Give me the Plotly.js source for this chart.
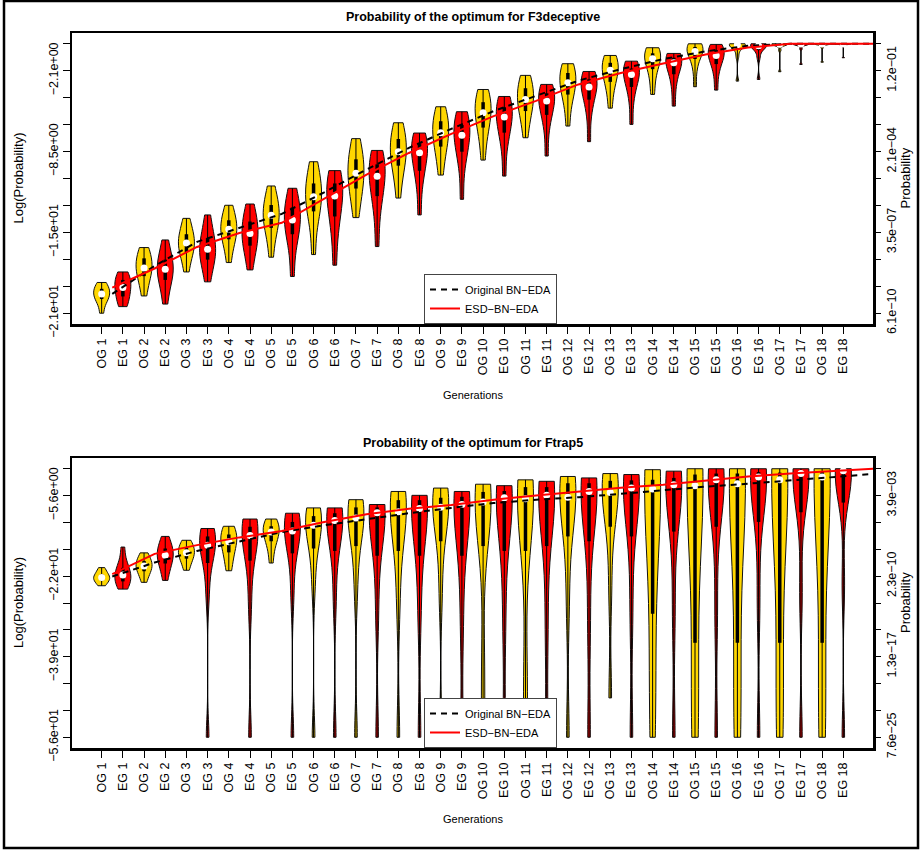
<!DOCTYPE html>
<html><head><meta charset="utf-8">
<script src="https://cdn.plot.ly/plotly-3.0.1.min.js"></script>
<style>body{margin:0;background:#fff}#chart{width:922px;height:852px}</style>
</head><body><div id="chart"></div>
<script>
// ---------- data ----------
const tickLabels = ["OG 1","EG 1","OG 2","EG 2","OG 3","EG 3","OG 4","EG 4","OG 5","EG 5","OG 6","EG 6",
  "OG 7","EG 7","OG 8","EG 8","OG 9","EG 9","OG 10","EG 10","OG 11","EG 11","OG 12","EG 12",
  "OG 13","EG 13","OG 14","EG 14","OG 15","EG 15","OG 16","EG 16","OG 17","EG 17","OG 18","EG 18"];

// each violin: octiles [min, p12.5, q1, p37.5, median, p62.5, q3, p87.5, max] of log(probability)
const topOG = [
 [-21.22,-20.4,-20.1,-19.9,-19.7,-19.5,-19.3,-19.1,-18.8],
 [-19.86,-18.9,-18.3,-17.9,-17.65,-17.3,-16.9,-16.5,-16.05],
 [-17.97,-16.9,-16.4,-16.0,-15.69,-15.4,-15.0,-14.5,-13.75],
 [-17.23,-16.0,-15.4,-15.0,-14.61,-14.3,-13.9,-13.4,-12.72],
 [-16.81,-15.2,-14.5,-14.0,-13.51,-13.1,-12.7,-12.1,-11.2],
 [-16.6,-14.2,-13.2,-12.6,-12.04,-11.5,-11.0,-10.3,-9.29],
 [-13.69,-12.2,-11.4,-10.8,-10.2,-9.6,-9.1,-8.4,-7.47],
 [-12.15,-10.4,-9.6,-9.0,-8.5,-8.0,-7.5,-6.9,-6.22],
 [-10.34,-8.9,-8.1,-7.5,-7.0,-6.6,-6.1,-5.6,-4.96],
 [-9.16,-7.4,-6.6,-5.9,-5.43,-5.0,-4.6,-4.1,-3.6],
 [-7.4,-6.0,-5.3,-4.8,-4.38,-3.9,-3.5,-3.0,-2.49],
 [-6.48,-4.8,-4.0,-3.5,-3.07,-2.7,-2.3,-1.9,-1.57],
 [-5.07,-3.7,-3.0,-2.5,-2.08,-1.8,-1.5,-1.2,-0.92],
 [-3.99,-2.8,-2.0,-1.5,-1.18,-0.95,-0.75,-0.5,-0.31],
 [-3.38,-2.0,-1.2,-0.8,-0.6,-0.4,-0.25,-0.1,0],
 [-2.94,-1.0,-0.4,-0.2,-0.08,-0.04,-0.02,0,0],
 [-2.2,-0.5,-0.15,-0.06,-0.03,-0.01,0,0,0],
 [-1.45,-0.3,-0.08,-0.03,-0.01,0,0,0,0]
];
const topEG = [
 [-20.7,-20.3,-19.9,-19.5,-19.2,-18.9,-18.6,-18.3,-17.97],
 [-20.5,-19.2,-18.6,-18.1,-17.76,-17.4,-17.0,-16.4,-15.45],
 [-18.75,-17.6,-17.0,-16.6,-16.18,-15.8,-15.3,-14.6,-13.48],
 [-17.81,-16.5,-15.9,-15.4,-14.95,-14.5,-14.0,-13.4,-12.62],
 [-18.33,-16.0,-15.0,-14.4,-13.88,-13.4,-12.9,-12.3,-11.38],
 [-17.44,-14.8,-13.6,-12.7,-11.99,-11.5,-11.0,-10.5,-9.99],
 [-15.97,-13.2,-12.0,-11.1,-10.44,-10.0,-9.5,-9.0,-8.4],
 [-13.48,-11.0,-10.0,-9.2,-8.58,-8.2,-7.9,-7.5,-7.03],
 [-12.25,-9.6,-8.5,-7.8,-7.21,-6.8,-6.4,-5.9,-5.35],
 [-10.42,-8.0,-7.0,-6.3,-5.77,-5.4,-5.0,-4.6,-4.15],
 [-8.84,-6.6,-5.6,-5.0,-4.51,-4.2,-3.9,-3.6,-3.2],
 [-7.71,-5.5,-4.4,-3.8,-3.41,-3.1,-2.8,-2.5,-2.18],
 [-6.35,-4.4,-3.4,-2.8,-2.42,-2.2,-1.95,-1.7,-1.37],
 [-4.91,-3.3,-2.4,-1.8,-1.5,-1.3,-1.1,-0.95,-0.76],
 [-3.65,-2.3,-1.6,-1.15,-0.92,-0.7,-0.5,-0.3,-0.05],
 [-2.81,-1.1,-0.5,-0.25,-0.15,-0.08,-0.04,-0.01,0],
 [-1.63,-0.4,-0.12,-0.05,-0.02,-0.01,0,0,0],
 [-1.1,-0.2,-0.05,-0.02,-0.01,0,0,0,0]
];
const botOG = [
 [-24.2,-23.5,-23.1,-22.8,-22.5,-22.2,-21.8,-21.2,-20.45],
 [-23.5,-22.0,-21.2,-20.6,-20.1,-19.6,-19.1,-18.4,-17.4],
 [-21.0,-19.5,-18.6,-17.9,-17.4,-16.9,-16.3,-15.6,-14.8],
 [-21.1,-19.0,-17.3,-16.0,-15.1,-14.3,-13.6,-12.8,-11.9],
 [-19.5,-16.5,-15.0,-13.9,-13.1,-12.5,-11.9,-11.2,-10.4],
 [-55.54,-24.0,-16.5,-13.5,-11.7,-10.6,-9.8,-8.9,-8.1],
 [-55.54,-25.0,-16.0,-12.3,-10.2,-9.0,-8.0,-7.2,-6.4],
 [-55.54,-28.0,-17.0,-11.5,-8.9,-7.5,-6.5,-5.5,-4.7],
 [-55.54,-26.0,-15.0,-10.0,-7.96,-6.8,-6.0,-5.0,-4.0],
 [-55.54,-40.0,-16.0,-9.0,-6.9,-5.5,-4.8,-4.0,-3.2],
 [-55.54,-42.0,-17.0,-9.0,-6.2,-4.6,-3.8,-3.0,-2.3],
 [-55.54,-28.0,-14.0,-8.5,-5.9,-4.0,-3.0,-2.2,-1.6],
 [-47.4,-25.0,-12.0,-7.5,-4.9,-3.3,-2.5,-1.7,-1.0],
 [-55.54,-46.0,-30.0,-9.0,-4.2,-2.8,-2.3,-1.2,-0.2],
 [-55.54,-50.0,-36.0,-8.0,-3.5,-2.0,-1.2,-0.5,0],
 [-55.54,-50.0,-36.0,-9.0,-3.1,-1.8,-1.0,-0.4,0],
 [-55.54,-50.0,-36.0,-8.0,-2.3,-1.3,-0.8,-0.3,0],
 [-55.54,-50.0,-36.0,-7.0,-1.7,-1.0,-0.6,-0.2,0]
];
const botEG = [
 [-24.9,-23.9,-23.3,-22.6,-21.97,-21.3,-20.5,-19.2,-16.2],
 [-23.1,-20.8,-19.6,-18.7,-17.9,-17.2,-16.5,-15.6,-14.0],
 [-55.54,-26.0,-19.5,-17.0,-15.8,-14.8,-14.0,-13.2,-12.36],
 [-55.54,-28.0,-19.0,-15.5,-13.8,-12.8,-12.0,-11.2,-10.4],
 [-55.54,-26.0,-17.5,-14.5,-12.9,-11.9,-11.0,-10.1,-9.2],
 [-55.54,-27.0,-17.0,-13.0,-10.7,-9.9,-9.2,-8.6,-8.1],
 [-55.54,-30.0,-18.0,-11.5,-9.1,-8.5,-8.0,-7.7,-7.4],
 [-55.54,-30.0,-18.0,-11.0,-8.2,-7.2,-6.5,-6.0,-5.5],
 [-55.54,-32.0,-18.0,-10.5,-7.4,-6.5,-5.8,-5.2,-4.7],
 [-55.54,-32.0,-17.0,-9.0,-6.0,-5.2,-4.6,-4.0,-3.5],
 [-55.54,-33.0,-16.0,-8.5,-5.5,-4.5,-3.8,-3.2,-2.6],
 [-55.54,-32.0,-15.0,-7.5,-4.7,-3.7,-3.0,-2.4,-1.9],
 [-55.54,-30.0,-14.0,-6.5,-4.0,-3.0,-2.4,-1.8,-1.2],
 [-55.54,-30.0,-13.0,-5.5,-3.3,-2.5,-1.9,-1.2,-0.5],
 [-55.54,-30.0,-12.0,-4.5,-2.3,-1.5,-1.0,-0.5,0],
 [-55.54,-28.0,-11.0,-4.0,-1.7,-1.1,-0.7,-0.3,0],
 [-55.54,-26.0,-9.0,-2.8,-1.0,-0.6,-0.4,-0.2,0],
 [-55.54,-24.0,-7.0,-1.5,-0.4,-0.25,-0.15,-0.05,0]
];

// trend curves, one value per generation
const lineGen = [1,2,3,4,5,6,7,8,9,10,11,12,13,14,15,16,17,18,19];
const topOrig = [-19.7,-17.5,-15.6,-14.5,-13.4,-11.7,-9.9,-8.2,-6.7,-5.3,-4.1,-2.9,-2.0,-1.2,-0.6,-0.15,0,0,0];
const topESD  = [-19.2,-17.7,-16.0,-14.9,-14.1,-12.2,-10.3,-8.6,-7.1,-5.7,-4.5,-3.2,-2.3,-1.55,-0.85,-0.3,0,0,0];
const botOrig = [-22.3,-19.4,-17.0,-15.0,-13.1,-11.7,-10.4,-9.2,-8.1,-7.1,-6.4,-5.9,-5.2,-4.4,-3.7,-3.1,-2.4,-1.75,-1.05];
const botESD  = [-21.8,-17.6,-15.8,-14.2,-12.9,-11.0,-9.4,-8.3,-7.5,-6.4,-5.55,-4.7,-3.95,-3.3,-2.45,-1.6,-1.0,-0.45,0];

// axis ticks
const topTickVals = [0,-2.122,-4.244,-6.366,-8.488,-10.61,-12.732,-14.854,-16.976,-19.098,-21.22];
const topTickLeft = ["","−2.1e+00","","","−8.5e+00","","","−1.5e+01","","","−2.1e+01"];
const topTickRight = ["","1.2e−01","","","2.1e−04","","","3.5e−07","","","6.1e−10"];
const botTickVals = [0,-5.554,-11.108,-16.662,-22.216,-27.77,-33.324,-38.878,-44.432,-49.986,-55.54];
const botTickLeft = ["","−5.6e+00","","","−2.2e+01","","","−3.9e+01","","","−5.6e+01"];
const botTickRight = ["","3.9e−03","","","2.3e−10","","","1.3e−17","","","7.6e−25"];

// ---------- build ----------
const GOLD = "#FFD700", RED = "#FF0000";
const FONT = "Liberation Sans, Arial, Helvetica, sans-serif";
const positions = tickLabels.map((_, i) => i + 1);
const pos = (g, isEG) => 2 * g + 1 + (isEG ? 1 : 0);

// one trace per violin, each in its own scale group so every violin gets the same max width
function violins(data, isEG, color, xa, ya, tag) {
  return data.map((arr, g) => ({
    type: "violin", x: arr.map(() => pos(g, isEG)), y: arr, xaxis: xa, yaxis: ya,
    scalegroup: tag + g, spanmode: "hard", scalemode: "width", width: 0.755, side: "both",
    fillcolor: color, opacity: 1, line: {color: "#111", width: 1},
    points: false, box: {visible: false}, meanline: {visible: false}, showlegend: false, hoverinfo: "skip"
  }));
}
function boxParts(data, isEG, xa, ya) {
  const wx = [], wy = [], bx = [], by = [], mx = [], my = [];
  data.forEach((arr, g) => {
    const p = pos(g, isEG);
    wx.push(p, p, null); wy.push(arr[0], arr[8], null);
    bx.push(p, p, null); by.push(arr[2], arr[6], null);
    mx.push(p); my.push(arr[4]);
  });
  return [
    {type: "scatter", mode: "lines", x: wx, y: wy, xaxis: xa, yaxis: ya, line: {color: "black", width: 1}, showlegend: false, hoverinfo: "skip"},
    {type: "scatter", mode: "lines", x: bx, y: by, xaxis: xa, yaxis: ya, line: {color: "black", width: 3.5}, showlegend: false, hoverinfo: "skip"},
    {type: "scatter", mode: "markers", x: mx, y: my, xaxis: xa, yaxis: ya, marker: {color: "white", size: 7}, showlegend: false, hoverinfo: "skip"}
  ];
}
function trend(vals, name, color, dash, xa, ya, leg) {
  return {type: "scatter", mode: "lines", name, x: lineGen.map(g => 2 * g - 0.5), y: vals, xaxis: xa, yaxis: ya,
    line: {color, width: 2, dash}, legend: leg, showlegend: true, hoverinfo: "skip"};
}

const traces = [
  ...violins(topOG, false, GOLD, "x", "y", "tOG"), ...violins(topEG, true, RED, "x", "y", "tEG"),
  ...boxParts(topOG, false, "x", "y"), ...boxParts(topEG, true, "x", "y"),
  trend(topOrig, "Original BN−EDA", "black", "6px,5px", "x", "y", "legend"),
  trend(topESD, "ESD−BN−EDA", RED, "solid", "x", "y", "legend"),
  ...violins(botOG, false, GOLD, "x2", "y2", "bOG"), ...violins(botEG, true, RED, "x2", "y2", "bEG"),
  ...boxParts(botOG, false, "x2", "y2"), ...boxParts(botEG, true, "x2", "y2"),
  trend(botOrig, "Original BN−EDA", "black", "6px,5px", "x2", "y2", "legend2"),
  trend(botESD, "ESD−BN−EDA", RED, "solid", "x2", "y2", "legend2"),
  {type: "scatter", x: [null], y: [null], xaxis: "x", yaxis: "y3", showlegend: false, hoverinfo: "skip"},
  {type: "scatter", x: [null], y: [null], xaxis: "x2", yaxis: "y4", showlegend: false, hoverinfo: "skip"}
];

// pixel -> paper helpers (plot area: x 72..873, y 33..748)
const PX = px => (px - 72) / 801, PY = py => (748 - py) / 715;

const xCommon = {range: [-0.4, 37.4], tickvals: positions, ticktext: tickLabels, tickangle: -90,
  ticks: "outside", ticklen: 7, tickwidth: 1, tickcolor: "black", showline: true, linewidth: 2.5,
  linecolor: "black", mirror: true, showgrid: false, zeroline: false, tickfont: {size: 12.5, family: FONT, color: "black"}};
const yCommon = {tickangle: -90, ticks: "outside", ticklen: 7, tickwidth: 1, tickcolor: "black",
  showgrid: false, zeroline: false, tickfont: {size: 12.5, family: FONT, color: "black"}};

const ann = (text, x, y, size, angle) => ({text, x: PX(x), y: PY(y), xref: "paper", yref: "paper",
  showarrow: false, xanchor: "center", yanchor: "middle", textangle: angle || 0,
  font: {family: FONT, size, color: "black"}});

const layout = {
  width: 922, height: 852, margin: {l: 72, r: 49, t: 33, b: 104},
  paper_bgcolor: "white", plot_bgcolor: "white", font: {family: FONT, color: "black"},
  violinmode: "overlay",
  xaxis: Object.assign({}, xCommon, {domain: [0, 1], anchor: "y"}),
  yaxis: Object.assign({}, yCommon, {domain: [PY(324), 1], anchor: "x", range: [-22.07, 0.849],
    tickvals: topTickVals, ticktext: topTickLeft, showline: true, mirror: true, linewidth: 2.5, linecolor: "black"}),
  yaxis3: Object.assign({}, yCommon, {overlaying: "y", side: "right", anchor: "x", range: [-22.07, 0.849],
    tickvals: topTickVals, ticktext: topTickRight, showline: false}),
  xaxis2: Object.assign({}, xCommon, {domain: [0, 1], anchor: "y2"}),
  yaxis2: Object.assign({}, yCommon, {domain: [0, PY(458)], anchor: "x2", range: [-57.76, 2.22],
    tickvals: botTickVals, ticktext: botTickLeft, showline: true, mirror: true, linewidth: 2.5, linecolor: "black"}),
  yaxis4: Object.assign({}, yCommon, {overlaying: "y2", side: "right", anchor: "x2", range: [-57.76, 2.22],
    tickvals: botTickVals, ticktext: botTickRight, showline: false}),
  legend: {x: PX(424), y: PY(324), xanchor: "left", yanchor: "bottom", bgcolor: "white",
    bordercolor: "#444", borderwidth: 1, font: {family: FONT, size: 11, color: "black"}, itemwidth: 30, tracegroupgap: 0},
  legend2: {x: PX(424), y: PY(748), xanchor: "left", yanchor: "bottom", bgcolor: "white",
    bordercolor: "#444", borderwidth: 1, font: {family: FONT, size: 11, color: "black"}, itemwidth: 30, tracegroupgap: 0},
  annotations: [
    ann("<b>Probability of the optimum for F3deceptive</b>", 472.5, 17, 12.5),
    ann("<b>Probability of the optimum for Ftrap5</b>", 472.5, 443, 12.5),
    ann("Generations", 472.5, 395, 11),
    ann("Generations", 472.5, 819, 11),
    ann("Log(Probability)", 18, 178.5, 13, -90),
    ann("Log(Probability)", 18, 603, 13, -90),
    ann("Probability", 905, 178.5, 13, -90),
    ann("Probability", 905, 603, 13, -90)
  ],
  shapes: [{type: "rect", xref: "paper", yref: "paper", x0: PX(4), x1: PX(918), y0: PY(848), y1: PY(1),
    line: {color: "black", width: 2.5}, fillcolor: "rgba(0,0,0,0)", layer: "above"}]
};

Plotly.newPlot("chart", traces, layout, {staticPlot: true, displayModeBar: false});
</script></body></html>
